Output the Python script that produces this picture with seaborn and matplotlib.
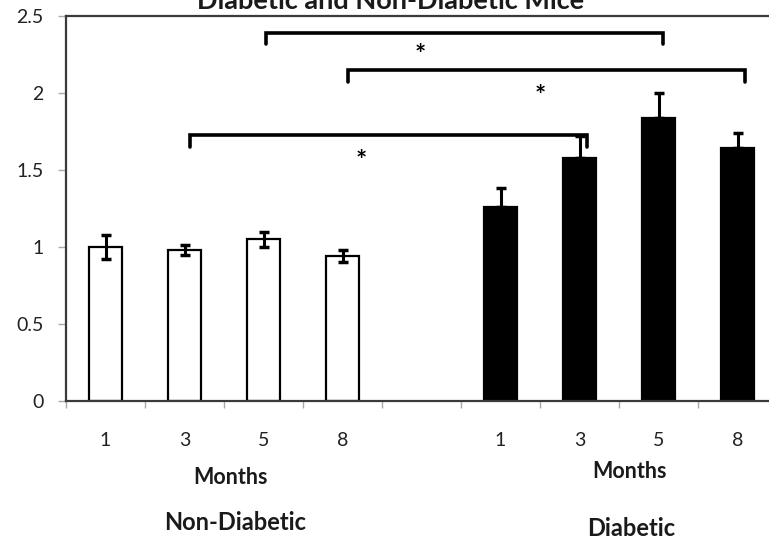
import numpy as np
import pandas as pd
import matplotlib
matplotlib.use("Agg")
import matplotlib.pyplot as plt
import seaborn as sns

# ---- data -------------------------------------------------------------
months = ["1", "3", "5", "8"]
non_diabetic = [1.00, 0.98, 1.05, 0.94]
non_diabetic_err = [0.08, 0.03, 0.05, 0.04]
diabetic = [1.26, 1.58, 1.84, 1.64]
diabetic_err = [0.12, 0.14, 0.16, 0.10]
groups = ["Non-Diabetic", "Diabetic"]
title = "Diabetic and Non-Diabetic Mice"

# significance brackets: (left slot, right slot, bar height, tick drop, star x, star y)
brackets = [
    (2.03, 7.06, 2.39, 0.075, 3.99, 2.27),
    (3.07, 8.10, 2.15, 0.080, 5.50, 2.00),
    (1.07, 6.09, 1.73, 0.080, 3.24, 1.58),
]

# ---- table --------------------------------------------------------------
keys_nd = [f"ND{m}" for m in months]
keys_d = [f"D{m}" for m in months]
order = keys_nd + ["gap"] + keys_d
df = pd.DataFrame({
    "key": keys_nd + keys_d,
    "value": non_diabetic + diabetic,
    "err": non_diabetic_err + diabetic_err,
    "group": [groups[0]] * 4 + [groups[1]] * 4,
})

W, H = 769, 539
fig = plt.figure(figsize=(W / 100, H / 100), dpi=100)
sns.set_style("white")
plt.rcParams["font.family"] = ["Lato", "DejaVu Sans"]

ax = fig.add_axes([66 / W, 1 - 401 / H, 711 / W, 385 / H])

sns.barplot(data=df, x="key", y="value", hue="group", order=order,
            palette={groups[0]: "white", groups[1]: "black"},
            edgecolor="black", linewidth=1.6, width=0.42,
            errorbar=None, legend=False, ax=ax)

pos = {k: i for i, k in enumerate(order)}
xs = [pos[k] for k in df["key"]]
lower = list(non_diabetic_err) + [0.0] * 4
ax.errorbar(xs, df["value"], yerr=[lower, df["err"]], fmt="none",
            ecolor="black", elinewidth=2.2, capsize=3.5, capthick=2.5,
            zorder=5)

for x0, x1, y, drop, sx, sy in brackets:
    ax.plot([x0, x0, x1, x1], [y - drop, y, y, y - drop], color="black",
            lw=2.6, solid_joinstyle="miter", zorder=6)
    ax.text(sx, sy - 0.02, "*", ha="center", va="center", fontsize=19,
            fontweight="bold", color="black")

ax.set_xlim(-0.5, 8.5)
ax.set_ylim(0, 2.5)
ax.set_yticks([0, 0.5, 1, 1.5, 2, 2.5])
ax.set_yticklabels(["0", "0.5", "1", "1.5", "2", "2.5"])
ax.set_xticks(range(9))
ax.set_xticklabels(months + [""] + months)
ax.set_xticks(np.arange(-0.5, 9.0, 1.0), minor=True)
ax.tick_params(axis="x", which="major", length=0, pad=22, labelsize=14,
               labelcolor="#222222")
ax.tick_params(axis="x", which="minor", length=5, width=1, color="#aaaaaa",
               direction="out", bottom=True)
ax.tick_params(axis="y", length=6, width=1, color="#aaaaaa", pad=10,
               labelsize=14, labelcolor="#222222", left=True)
ax.set_xlabel("")
ax.set_ylabel("")

for side in ["left", "top", "bottom"]:
    ax.spines[side].set_visible(True)
    ax.spines[side].set_color("#3a3a3a")
    ax.spines[side].set_linewidth(1.6)
ax.spines["right"].set_visible(False)

def ftext(x, y, s, **kw):
    fig.text(x / W, 1 - y / H, s, ha="center", va="center",
             color="#1a1a1a", fontweight="bold", **kw)

ftext(391, 1, title, fontsize=19.5)
ftext(230, 478, "Months", fontsize=15.5)
ftext(629, 472, "Months", fontsize=15.5)
ftext(235, 523, groups[0], fontsize=17)
ftext(631, 528, groups[1], fontsize=17)

fig.savefig("out.png", dpi=100, facecolor="white")
